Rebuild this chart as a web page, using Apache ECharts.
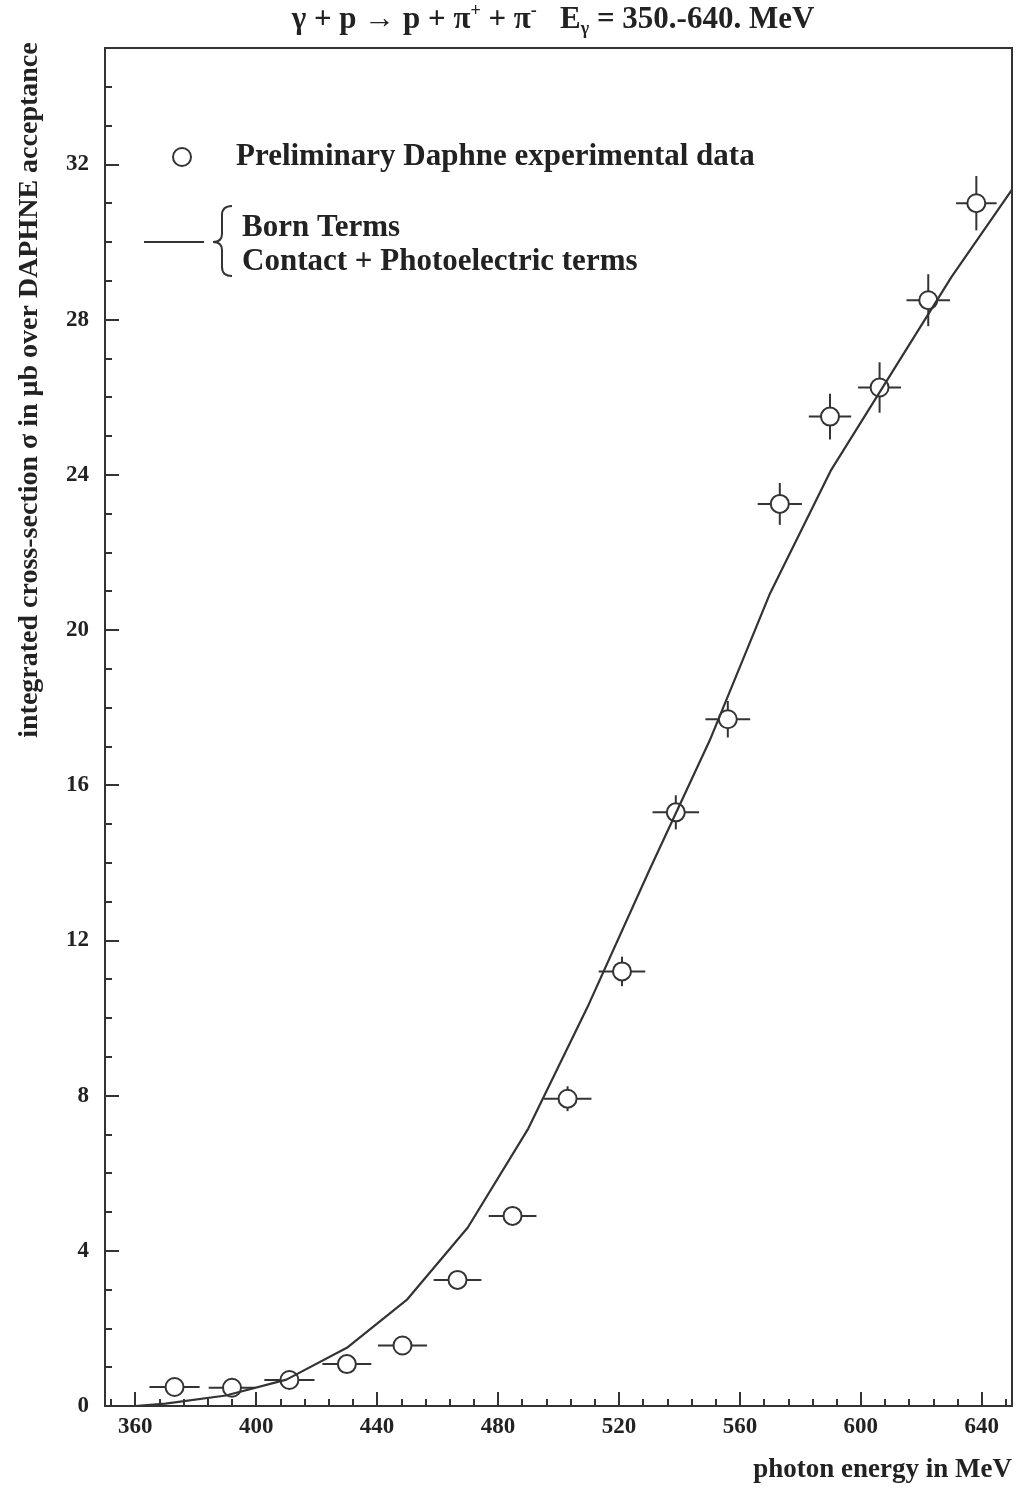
<!DOCTYPE html>
<html>
<head>
<meta charset="utf-8">
<script src="https://cdn.jsdelivr.net/npm/echarts@6/dist/echarts.min.js"></script>
<style>
html,body{margin:0;padding:0;background:#fff;}
#chart{width:1020px;height:1488px;}
</style>
</head>
<body>
<div id="chart"></div>
<script>
// ---- data ----
const energy    = [373, 392, 411, 430, 448.4, 466.6, 484.8, 503, 521, 538.8, 556, 573.2, 589.8, 606.2, 622.3, 638.2];
const sigma     = [0.49, 0.47, 0.67, 1.08, 1.56, 3.25, 4.9, 7.92, 11.2, 15.3, 17.7, 23.25, 25.5, 26.25, 28.5, 31.0];
const errEnergy = [8.3, 7.7, 8.3, 8.1, 8.1, 7.9, 7.9, 7.9, 7.7, 7.7, 7.4, 7.3, 7.0, 7.1, 7.2, 6.7];
const errSigma  = [0.05, 0.05, 0.05, 0.08, 0.1, 0.15, 0.22, 0.32, 0.38, 0.44, 0.47, 0.54, 0.59, 0.65, 0.67, 0.70];

const curveEnergy = [350, 360, 370, 390, 410, 430, 450, 470, 490, 510, 530, 550, 570, 590, 610, 630, 650];
const curveSigma  = [0, 0, 0.06, 0.27, 0.68, 1.5, 2.75, 4.6, 7.15, 10.35, 13.8, 17.15, 20.95, 24.1, 26.6, 29.1, 31.35];

const xTickLabels = [360, 400, 440, 480, 520, 560, 600, 640];
const yTickLabels = [0, 4, 8, 12, 16, 20, 24, 28, 32];

const titleText = 'γ + p → p + π{sup|+} + π{sup|-}   E{sub|γ} = 350.-640. MeV';
const yName = 'integrated cross-section σ in μb over DAPHNE acceptance';
const xName = 'photon energy in MeV';
const legendData = 'Preliminary Daphne experimental data';
const legendCurve1 = 'Born Terms';
const legendCurve2 = 'Contact + Photoelectric terms';

// minor tick positions (axis decoration)
const xMinor = []; for (let v = 352; v <= 650; v += 8) xMinor.push(v);
const yMinor = []; for (let v = 0; v <= 35; v += 1) yMinor.push(v);

const INK = '#333';
const TXT = '#222';
const FONT = '"Liberation Serif", "DejaVu Serif", serif';

const chart = echarts.init(document.getElementById('chart'), null, {renderer: 'canvas'});

const points = energy.map((e, i) => [e, sigma[i], errEnergy[i], errSigma[i]]);
const curve = curveEnergy.map((e, i) => [e, curveSigma[i]]);

const labelStyle = {fontFamily: FONT, fontWeight: 'bold', fontSize: 23, color: TXT};
const st2 = {stroke: INK, lineWidth: 2, fill: 'none'};

const option = {
  animation: false,
  backgroundColor: '#fff',
  grid: {left: 105, right: 8, top: 48, bottom: 82, show: true, borderColor: INK, borderWidth: 2, backgroundColor: 'transparent'},
  xAxis: [
    {type: 'value', min: 350, max: 650, position: 'bottom',
     axisLine: {onZero: false, lineStyle: {color: INK, width: 2}},
     axisTick: {inside: true, length: 14, customValues: xTickLabels, lineStyle: {color: INK, width: 2}},
     axisLabel: Object.assign({customValues: xTickLabels, margin: 10}, labelStyle),
     splitLine: {show: false}},
    {type: 'value', min: 350, max: 650, position: 'bottom',
     axisLine: {show: false, onZero: false},
     axisTick: {inside: true, length: 7, customValues: xMinor, lineStyle: {color: INK, width: 2}},
     axisLabel: {show: false}, splitLine: {show: false}}
  ],
  yAxis: [
    {type: 'value', min: 0, max: 35, position: 'left',
     axisLine: {onZero: false, lineStyle: {color: INK, width: 2}},
     axisTick: {inside: true, length: 14, customValues: yTickLabels, lineStyle: {color: INK, width: 2}},
     axisLabel: Object.assign({customValues: yTickLabels, margin: 16}, labelStyle),
     splitLine: {show: false}},
    {type: 'value', min: 0, max: 35, position: 'left',
     axisLine: {show: false, onZero: false},
     axisTick: {inside: true, length: 7, customValues: yMinor, lineStyle: {color: INK, width: 2}},
     axisLabel: {show: false}, splitLine: {show: false}}
  ],
  series: [
    {
      type: 'custom', xAxisIndex: 0, yAxisIndex: 0, z: 3,
      data: points,
      renderItem: function (params, api) {
        const x = api.value(0), y = api.value(1), dx = api.value(2), dy = api.value(3);
        const c = api.coord([x, y]);
        const l = api.coord([x - dx, y]);
        const r = api.coord([x + dx, y]);
        const t = api.coord([x, y + dy]);
        const b = api.coord([x, y - dy]);
        const st = {stroke: INK, lineWidth: 2};
        return {type: 'group', children: [
          {type: 'line', shape: {x1: l[0], y1: c[1], x2: r[0], y2: c[1]}, style: st},
          {type: 'line', shape: {x1: c[0], y1: t[1], x2: c[0], y2: b[1]}, style: st},
          {type: 'circle', shape: {cx: c[0], cy: c[1], r: 9}, style: {fill: '#fff', stroke: INK, lineWidth: 2}}
        ]};
      }
    },
    {
      type: 'line', xAxisIndex: 0, yAxisIndex: 0, z: 4,
      data: curve, symbol: 'none', smooth: false,
      lineStyle: {color: INK, width: 2.2}
    }
  ],
  graphic: [
    {type: 'text', x: 553, y: 20,
     style: {text: titleText, fontFamily: FONT, fontWeight: 'bold', fontSize: 31, fill: TXT,
             align: 'center', verticalAlign: 'middle', lineHeight: 36,
             rich: {sup: {fontFamily: FONT, fontWeight: 'bold', fontSize: 18, fill: TXT, verticalAlign: 'top', lineHeight: 36},
                    sub: {fontFamily: FONT, fontWeight: 'bold', fontSize: 18, fill: TXT, verticalAlign: 'bottom', lineHeight: 36}}}},
    {type: 'text', x: 30, y: 390, rotation: Math.PI / 2,
     style: {text: yName, fontFamily: FONT, fontWeight: 'bold', fontSize: 28, fill: TXT, align: 'center', verticalAlign: 'middle'}},
    {type: 'text', x: 1012, y: 1470,
     style: {text: xName, fontFamily: FONT, fontWeight: 'bold', fontSize: 27, fill: TXT, align: 'right', verticalAlign: 'middle'}},
    {type: 'circle', shape: {cx: 182, cy: 157, r: 9}, style: {fill: '#fff', stroke: INK, lineWidth: 2}},
    {type: 'text', x: 236, y: 157,
     style: {text: legendData, fontFamily: FONT, fontWeight: 'bold', fontSize: 31, fill: TXT, align: 'left', verticalAlign: 'middle'}},
    {type: 'line', shape: {x1: 144, y1: 242, x2: 204, y2: 242}, style: st2},
    {type: 'bezierCurve', shape: {x1: 232, y1: 206, cpx1: 222, cpy1: 206, x2: 222, y2: 215}, style: st2},
    {type: 'line', shape: {x1: 222, y1: 215, x2: 222, y2: 234}, style: st2},
    {type: 'bezierCurve', shape: {x1: 222, y1: 234, cpx1: 222, cpy1: 242, x2: 213, y2: 242}, style: st2},
    {type: 'bezierCurve', shape: {x1: 213, y1: 242, cpx1: 222, cpy1: 242, x2: 222, y2: 250}, style: st2},
    {type: 'line', shape: {x1: 222, y1: 250, x2: 222, y2: 267}, style: st2},
    {type: 'bezierCurve', shape: {x1: 222, y1: 267, cpx1: 222, cpy1: 276, x2: 232, y2: 276}, style: st2},
    {type: 'text', x: 242, y: 228,
     style: {text: legendCurve1, fontFamily: FONT, fontWeight: 'bold', fontSize: 31, fill: TXT, align: 'left', verticalAlign: 'middle'}},
    {type: 'text', x: 242, y: 262,
     style: {text: legendCurve2, fontFamily: FONT, fontWeight: 'bold', fontSize: 31, fill: TXT, align: 'left', verticalAlign: 'middle'}}
  ]
};
chart.setOption(option);
</script>
</body>
</html>
